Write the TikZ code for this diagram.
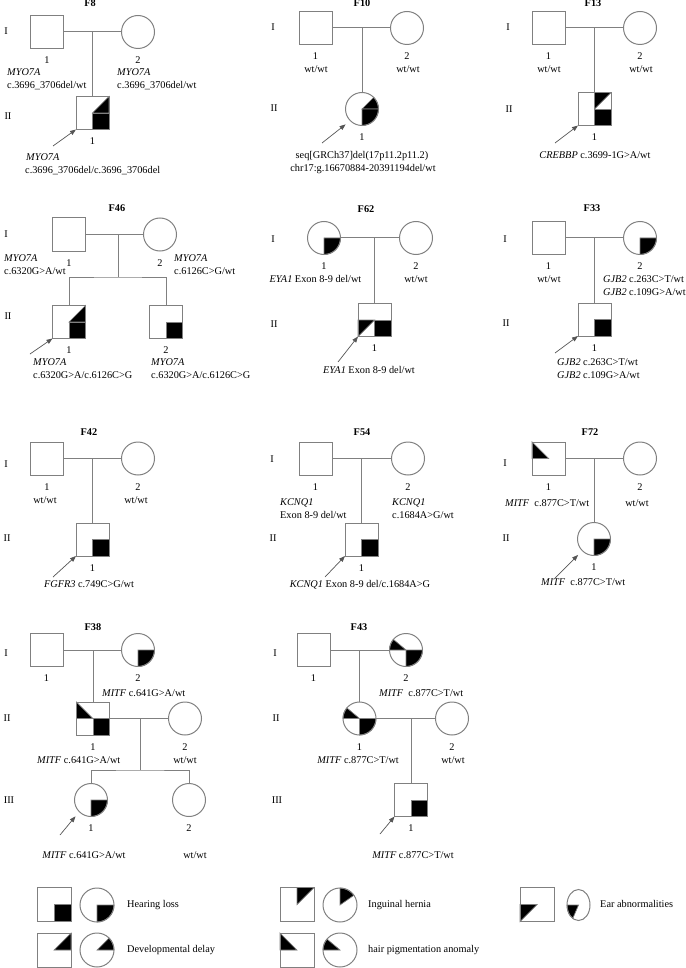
\documentclass[tikz,border=0pt]{standalone}
\usepackage{fontspec}
\setmainfont{Liberation Serif}
\usepackage{tikz}
\usetikzlibrary{arrows.meta, positioning, backgrounds, shapes.geometric}
\definecolor{pedGray}{RGB}{128,128,128}
\definecolor{pedArrow}{RGB}{85,85,85}
\newcommand{\hearsq}[1]{\filldraw[affected] (#1.center) rectangle (#1.south east);}
\newcommand{\delaysq}[1]{\filldraw[affected] (#1.north east) -- (#1.east) -- (#1.center) -- cycle;}
\newcommand{\herniasq}[1]{\filldraw[affected] (#1.north) -- (#1.north east) -- (#1.center) -- cycle;}
\newcommand{\earsq}[1]{\filldraw[affected] (#1.west) -- (#1.center) -- (#1.south west) -- cycle;}
\newcommand{\hairsq}[1]{\filldraw[affected] (#1.north west) -- (#1.west) -- (#1.center) -- cycle;}
\newcommand{\hearci}[2][16.5pt]{\filldraw[affected] (#2.center) -- (#2.east) arc[start angle=0, end angle=-90, radius=#1] -- cycle;}
\newcommand{\delayci}[2][16.5pt]{\filldraw[affected] (#2.center) -- (#2.east) arc[start angle=0, end angle=45, radius=#1] -- cycle;}
\newcommand{\herniaci}[2][16.5pt]{\filldraw[affected] (#2.center) -- (#2.north) arc[start angle=90, end angle=35, radius=#1] -- cycle;}
\newcommand{\hairci}[2][16.5pt]{\filldraw[affected] (#2.center) -- (#2.west) arc[start angle=180, end angle=140, radius=#1] -- cycle;}

\begin{document}
\begin{tikzpicture}[x=1pt, y=-1pt,
      font=\fontsize{10.3}{12}\selectfont,
      male/.style={rectangle, draw=pedGray, line width=1pt, minimum size=33pt, inner sep=0pt, outer sep=0pt},
      female/.style={circle, draw=pedGray, line width=1pt, minimum size=33pt, inner sep=0pt, outer sep=0pt},
      legend/.style={minimum size=34pt},
      affected/.style={fill=black, draw=pedGray, line width=0.7pt},
      link/.style={draw=pedGray, line width=1pt},
      proband/.style={draw=pedArrow, line width=0.7pt, -{Triangle[length=6pt, width=4.5pt]}},
      txt/.style={inner sep=0pt, text height=7pt, text depth=2pt},
      num/.style={txt, below=8pt of #1},
      fam/.style={txt, font=\fontsize{10.3}{12}\selectfont\bfseries}
    ]
    \useasboundingbox (0,0) rectangle (685,968);

    \node[fam] (f8t) at (90,4) {F8};
    \node[txt] (f8g1) at (6,32) {I};
    \node[txt] (f8g2) at (8,117) {II};
    \node[male] (f8m) at (47,32) {};
    \node[female] (f8f) at (138,32) {};
    \coordinate (f8j) at (92.5,32);
    \node[male] (f8p) at (92.5,113) {};
    \draw[link] (f8m) -- (f8f);
    \draw[link] (f8j) -- (f8p);
    \node[num=f8m] (f8n1) {1};
    \node[num=f8f] (f8n2) {2};
    \node[num=f8p] (f8n3) {1};
    \node[txt, anchor=west] (f8a1) at (7,73) {\textit{MYO7A}};
    \node[txt, anchor=west] (f8a2) at (7,86) {c.3696\_3706del/wt};
    \node[txt, anchor=west] (f8b1) at (117,73) {\textit{MYO7A}};
    \node[txt, anchor=west] (f8b2) at (117,86) {c.3696\_3706del/wt};
    \node[txt, anchor=west] (f8c1) at (26,158) {\textit{MYO7A}};
    \node[txt, anchor=west] (f8c2) at (25,171) {c.3696\_3706del/c.3696\_3706del};
    \coordinate (f8s) at (53,146);
    \draw[proband] (f8s) -- (f8p.south west);

    \node[fam] (f10t) at (362,4) {F10};
    \node[txt] (f10g1) at (273,28) {I};
    \node[txt] (f10g2) at (274,109) {II};
    \node[male] (f10m) at (315.5,28) {};
    \node[female] (f10f) at (407,28) {};
    \coordinate (f10j) at (362,28);
    \node[female] (f10p) at (362,109) {};
    \draw[link] (f10m) -- (f10f);
    \draw[link] (f10j) -- (f10p);
    \node[num=f10m] (f10n1) {1};
    \node[num=f10f] (f10n2) {2};
    \node[num=f10p] (f10n3) {1};
    \node[txt] (f10a1) at (316,70) {wt/wt};
    \node[txt] (f10b1) at (408,70) {wt/wt};
    \node[txt] (f10c1) at (362,156) {seq[GRCh37]del(17p11.2p11.2)};
    \node[txt] (f10c2) at (363,169) {chr17:g.16670884-20391194del/wt};
    \coordinate (f10s) at (322,143);
    \draw[proband, shorten >=6pt] (f10s) -- (f10p.south west);

    \node[fam] (f13t) at (593,4) {F13};
    \node[txt] (f13g1) at (508,28) {I};
    \node[txt] (f13g2) at (509,110) {II};
    \node[male] (f13m) at (548.5,28) {};
    \node[female] (f13f) at (640,28) {};
    \coordinate (f13j) at (594.5,28);
    \node[male] (f13p) at (594.5,109) {};
    \draw[link] (f13m) -- (f13f);
    \draw[link] (f13j) -- (f13p);
    \node[num=f13m] (f13n1) {1};
    \node[num=f13f] (f13n2) {2};
    \node[num=f13p] (f13n3) {1};
    \node[txt] (f13a1) at (549,70) {wt/wt};
    \node[txt] (f13b1) at (641,70) {wt/wt};
    \node[txt] (f13c1) at (595,156) {\textit{CREBBP} c.3699-1G>A/wt};
    \coordinate (f13s) at (555,143);
    \draw[proband] (f13s) -- (f13p.south west);

    \node[fam] (f46t) at (117,209) {F46};
    \node[txt] (f46g1) at (6,235) {I};
    \node[txt] (f46g2) at (8,317) {II};
    \node[male] (f46m) at (69,234.5) {};
    \node[female] (f46f) at (160,234.5) {};
    \coordinate (f46j) at (118,234.5);
    \coordinate (f46k) at (118,277);
    \node[male] (f46p) at (69,322) {};
    \node[male] (f46q) at (166,322) {};
    \draw[link] (f46m) -- (f46f);
    \draw[link] (f46j) -- (f46k);
    \draw[link] (f46p.north) |- (f46k) -| (f46q.north);
    \node[num=f46m] (f46n1) {1};
    \node[num=f46f] (f46n2) {2};
    \node[num=f46p] (f46n3) {1};
    \node[num=f46q] (f46n4) {2};
    \node[txt, anchor=west] (f46a1) at (4,259) {\textit{MYO7A}};
    \node[txt, anchor=west] (f46a2) at (4,272) {c.6320G>A/wt};
    \node[txt, anchor=west] (f46b1) at (174,259) {\textit{MYO7A}};
    \node[txt, anchor=west] (f46b2) at (174,272) {c.6126C>G/wt};
    \node[txt, anchor=west] (f46c1) at (33,363) {\textit{MYO7A}};
    \node[txt, anchor=west] (f46c2) at (33,376) {c.6320G>A/c.6126C>G};
    \node[txt, anchor=west] (f46d1) at (151,363) {\textit{MYO7A}};
    \node[txt, anchor=west] (f46d2) at (151,376) {c.6320G>A/c.6126C>G};
    \coordinate (f46s) at (30,354);
    \draw[proband] (f46s) -- (f46p.south west);

    \node[fam] (f62t) at (366,210) {F62};
    \node[txt] (f62g1) at (273,240) {I};
    \node[txt] (f62g2) at (274,325) {II};
    \node[female] (f62m) at (324,238) {};
    \node[female] (f62f) at (416,238) {};
    \coordinate (f62j) at (374.5,238);
    \node[male] (f62p) at (374.5,320) {};
    \draw[link] (f62m) -- (f62f);
    \draw[link] (f62j) -- (f62p);
    \node[num=f62m] (f62n1) {1};
    \node[num=f62f] (f62n2) {2};
    \node[num=f62p] (f62n3) {1};
    \node[txt] (f62a1) at (315.5,280) {\textit{EYA1} Exon 8-9 del/wt};
    \node[txt] (f62b1) at (416,280) {wt/wt};
    \node[txt] (f62c1) at (369,371) {\textit{EYA1} Exon 8-9 del/wt};
    \coordinate (f62s) at (338,362);
    \draw[proband] (f62s) -- (f62p.south west);

    \node[fam] (f33t) at (592,209) {F33};
    \node[txt] (f33g1) at (505,240) {I};
    \node[txt] (f33g2) at (506,324) {II};
    \node[male] (f33m) at (548.5,238) {};
    \node[female] (f33f) at (640,238) {};
    \coordinate (f33j) at (594.5,238);
    \node[male] (f33p) at (594.5,319.5) {};
    \draw[link] (f33m) -- (f33f);
    \draw[link] (f33j) -- (f33p);
    \node[num=f33m] (f33n1) {1};
    \node[num=f33f] (f33n2) {2};
    \node[num=f33p] (f33n3) {1};
    \node[txt] (f33a1) at (549,280) {wt/wt};
    \node[txt, anchor=west] (f33b1) at (603,280) {\textit{GJB2} c.263C>T/wt};
    \node[txt, anchor=west] (f33b2) at (603,293) {\textit{GJB2} c.109G>A/wt};
    \node[txt, anchor=west] (f33c1) at (557,363) {\textit{GJB2} c.263C>T/wt};
    \node[txt, anchor=west] (f33c2) at (557,376) {\textit{GJB2} c.109G>A/wt};
    \coordinate (f33s) at (555,353);
    \draw[proband] (f33s) -- (f33p.south west);

    \node[fam] (f42t) at (89,433) {F42};
    \node[txt] (f42g1) at (6,465) {I};
    \node[txt] (f42g2) at (7,539) {II};
    \node[male] (f42m) at (47,458.5) {};
    \node[female] (f42f) at (138,458.5) {};
    \coordinate (f42j) at (92.5,458.5);
    \node[male] (f42p) at (92.5,539.5) {};
    \draw[link] (f42m) -- (f42f);
    \draw[link] (f42j) -- (f42p);
    \node[num=f42m] (f42n1) {1};
    \node[num=f42f] (f42n2) {2};
    \node[num=f42p] (f42n3) {1};
    \node[txt] (f42a1) at (45,501) {wt/wt};
    \node[txt] (f42b1) at (136,501) {wt/wt};
    \node[txt] (f42c1) at (89,585) {\textit{FGFR3} c.749C>G/wt};
    \coordinate (f42s) at (53,577);
    \draw[proband] (f42s) -- (f42p.south west);

    \node[fam] (f54t) at (362,433) {F54};
    \node[txt] (f54g1) at (272,460) {I};
    \node[txt] (f54g2) at (273,539) {II};
    \node[male] (f54m) at (315.5,458.5) {};
    \node[female] (f54f) at (408,458.5) {};
    \coordinate (f54j) at (361.5,458.5);
    \node[male] (f54p) at (361.5,539.5) {};
    \draw[link] (f54m) -- (f54f);
    \draw[link] (f54j) -- (f54p);
    \node[num=f54m] (f54n1) {1};
    \node[num=f54f] (f54n2) {2};
    \node[num=f54p] (f54n3) {1};
    \node[txt, anchor=west] (f54a1) at (280,503) {\textit{KCNQ1}};
    \node[txt, anchor=west] (f54a2) at (280,516) {Exon 8-9 del/wt};
    \node[txt, anchor=west] (f54b1) at (392,503) {\textit{KCNQ1}};
    \node[txt, anchor=west] (f54b2) at (392,516) {c.1684A>G/wt};
    \node[txt] (f54c1) at (360,585) {\textit{KCNQ1} Exon 8-9 del/c.1684A>G};
    \coordinate (f54s) at (325,577);
    \draw[proband] (f54s) -- (f54p.south west);

    \node[fam] (f72t) at (590,433) {F72};
    \node[txt] (f72g1) at (505,464) {I};
    \node[txt] (f72g2) at (506,539) {II};
    \node[male] (f72m) at (548.5,458.5) {};
    \node[female] (f72f) at (640,458.5) {};
    \coordinate (f72j) at (594,458.5);
    \node[female] (f72p) at (594,539) {};
    \draw[link] (f72m) -- (f72f);
    \draw[link] (f72j) -- (f72p);
    \node[num=f72m] (f72n1) {1};
    \node[num=f72f] (f72n2) {2};
    \node[num=f72p] (f72n3) {1};
    \node[txt, anchor=west] (f72a1) at (505,504) {\textit{MITF}\ \ c.877C>T/wt};
    \node[txt] (f72b1) at (637,504) {wt/wt};
    \node[txt, anchor=west] (f72c1) at (541,583) {\textit{MITF}\ \ c.877C>T/wt};
    \coordinate (f72s) at (555,578);
    \draw[proband, shorten >=6pt] (f72s) -- (f72p.south west);

    \node[fam] (f38t) at (93,628) {F38};
    \node[txt] (f38g1) at (6,654) {I};
    \node[txt] (f38g2) at (7,719) {II};
    \node[txt] (f38g3) at (9,801) {III};
    \node[male] (f38m) at (46.5,650) {};
    \node[female] (f38f) at (138,650) {};
    \coordinate (f38j) at (93,650);
    \node[male] (f38p) at (93,718.5) {};
    \node[female] (f38w) at (185,718.5) {};
    \coordinate (f38k) at (140,718.5);
    \coordinate (f38l) at (140,770);
    \node[female] (f38c) at (91,800) {};
    \node[female] (f38d) at (189,800) {};
    \draw[link] (f38m) -- (f38f);
    \draw[link] (f38j) -- (f38p);
    \draw[link] (f38p) -- (f38w);
    \draw[link] (f38k) -- (f38l);
    \draw[link] (f38c.north) |- (f38l) -| (f38d.north);
    \node[num=f38m] (f38n1) {1};
    \node[num=f38f] (f38n2) {2};
    \node[num=f38p] (f38n3) {1};
    \node[num=f38w] (f38n4) {2};
    \node[num=f38c] (f38n5) {1};
    \node[num=f38d] (f38n6) {2};
    \node[txt, anchor=west] (f38a1) at (102,694) {\textit{MITF} c.641G>A/wt};
    \node[txt, anchor=west] (f38b1) at (37,761) {\textit{MITF} c.641G>A/wt};
    \node[txt] (f38b2) at (185,761) {wt/wt};
    \node[txt] (f38c1) at (84,856) {\textit{MITF} c.641G>A/wt};
    \node[txt] (f38d1) at (195,856) {wt/wt};
    \coordinate (f38s) at (60,835);
    \draw[proband, shorten >=6pt] (f38s) -- (f38c.south west);

    \node[fam] (f43t) at (359,628) {F43};
    \node[txt] (f43g1) at (275,654) {I};
    \node[txt] (f43g2) at (276,719) {II};
    \node[txt] (f43g3) at (277,801) {III};
    \node[male] (f43m) at (313.5,650) {};
    \node[female] (f43f) at (406,650) {};
    \coordinate (f43j) at (359.5,650);
    \node[female] (f43p) at (359.5,718.5) {};
    \node[female] (f43w) at (452,718.5) {};
    \coordinate (f43k) at (411,718.5);
    \node[male] (f43c) at (411,800) {};
    \draw[link] (f43m) -- (f43f);
    \draw[link] (f43j) -- (f43p);
    \draw[link] (f43p) -- (f43w);
    \draw[link] (f43k) -- (f43c);
    \node[num=f43m] (f43n1) {1};
    \node[num=f43f] (f43n2) {2};
    \node[num=f43p] (f43n3) {1};
    \node[num=f43w] (f43n4) {2};
    \node[num=f43c] (f43n5) {1};
    \node[txt, anchor=west] (f43a1) at (379,694) {\textit{MITF}\ \ c.877C>T/wt};
    \node[txt, anchor=east] (f43b1) at (399,761) {\textit{MITF} c.877C>T/wt};
    \node[txt] (f43b2) at (453,761) {wt/wt};
    \node[txt] (f43c1) at (413,856) {\textit{MITF} c.877C>T/wt};
    \coordinate (f43s) at (380,834);
    \draw[proband] (f43s) -- (f43c.south west);

    \node[male, legend] (lgh1) at (54,904.5) {};
    \node[female, legend] (lgh2) at (97,905) {};
    \node[txt, anchor=west] (lgh3) at (127,905) {Hearing loss};
    \node[male, legend] (lgi1) at (297,904.5) {};
    \node[female, legend] (lgi2) at (340,905) {};
    \node[txt, anchor=west] (lgi3) at (368,905) {Inguinal hernia};
    \node[male, legend] (lge1) at (537,904.5) {};
    \node[ellipse, draw=pedGray, line width=1pt, minimum width=23pt, minimum height=31pt, inner sep=0pt, outer sep=0pt] (lge2) at (578.5,905) {};
    \node[txt, anchor=west] (lge3) at (600,905) {Ear abnormalities};
    \node[male, legend] (lgd1) at (54,950) {};
    \node[female, legend] (lgd2) at (97,950) {};
    \node[txt, anchor=west] (lgd3) at (127,950) {Developmental delay};
    \node[male, legend] (lgp1) at (297,950) {};
    \node[female, legend] (lgp2) at (340,950) {};
    \node[txt, anchor=west] (lgp3) at (368,950) {hair pigmentation anomaly};

    \begin{scope}[on background layer]
      \delaysq{f8p} \hearsq{f8p}
      \delayci{f10p} \hearci{f10p}
      \herniasq{f13p} \hearsq{f13p}
      \delaysq{f46p} \hearsq{f46p} \hearsq{f46q}
      \hearci{f62m} \earsq{f62p} \hearsq{f62p}
      \hearci{f33f} \hearsq{f33p}
      \hearsq{f42p}
      \hearsq{f54p}
      \hairsq{f72m} \hearci{f72p}
      \hearci{f38f} \hairsq{f38p} \hearsq{f38p} \hearci{f38c}
      \hairci{f43f} \hearci{f43f} \hairci{f43p} \hearci{f43p} \hearsq{f43c}
      \hearsq{lgh1} \hearci[17pt]{lgh2}
      \herniasq{lgi1} \herniaci[17pt]{lgi2}
      \earsq{lge1}
      \filldraw[affected] (lge2.center) -- (lge2.west) arc[start angle=180, end angle=240, x radius=11.5pt, y radius=15.5pt] -- cycle;
      \delaysq{lgd1} \delayci[17pt]{lgd2}
      \hairsq{lgp1} \hairci[17pt]{lgp2}
    \end{scope}
  \end{tikzpicture}
\end{document}
